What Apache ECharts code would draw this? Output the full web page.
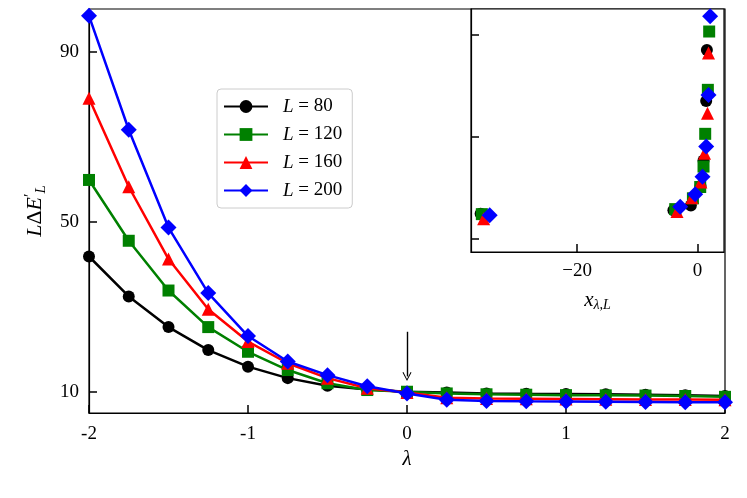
<!DOCTYPE html>
<html>
<head>
<meta charset="utf-8">
<script src="https://cdn.jsdelivr.net/npm/echarts@6/dist/echarts.min.js"></script>
<style>
html, body { margin: 0; padding: 0; background: #fff; }
#chart { width: 747px; height: 498px; }
</style>
</head>
<body>
<div id="chart"></div>
<script>
// main panel: L*dE' vs lambda
var lambdas = [-2, -1.75, -1.5, -1.25, -1, -0.75, -0.5, -0.25, 0, 0.25, 0.5, 0.75, 1, 1.25, 1.5, 1.75, 2];
var L80  = [41.8, 32.4, 25.2, 19.8, 15.9, 13.2, 11.4, 10.5, 10.0, 9.8, 9.6, 9.5, 9.45, 9.4, 9.3, 9.2, 9.0];
var L120 = [59.8, 45.5, 33.8, 25.2, 19.4, 15.1, 12.0, 10.4, 10.0, 9.6, 9.4, 9.3, 9.2, 9.15, 9.1, 9.0, 8.8];
var L160 = [79.0, 58.2, 41.2, 29.4, 21.8, 16.7, 13.2, 10.8, 9.8, 8.6, 8.4, 8.35, 8.3, 8.25, 8.2, 8.15, 8.1];
var L200 = [98.4, 71.6, 48.6, 33.2, 23.1, 17.1, 13.9, 11.3, 9.6, 8.1, 7.85, 7.75, 7.7, 7.65, 7.6, 7.55, 7.5];
var yTicks = [10, 50, 90];
var xTicks = [-2, -1, 0, 1, 2];

// inset: scaling collapse (y labels not shown in the figure)
var insX80  = [-36.0, -4.0, -1.1, 0.5, 1.0, 1.44, 1.56];
var insY80  = [0.25, 0.284, 0.33, 0.52, 0.77, 1.35, 1.85];
var insX120 = [-35.8, -3.7, -0.76, 0.45, 1.0, 1.28, 1.72, 1.94];
var insY120 = [0.245, 0.294, 0.40, 0.51, 0.71, 1.03, 1.46, 2.03];
var insX160 = [-35.5, -3.4, -0.93, 0.56, 1.16, 1.66, 1.83];
var insY160 = [0.20, 0.27, 0.405, 0.56, 0.84, 1.23, 1.82];
var insX200 = [-34.5, -2.87, -0.38, 0.83, 1.44, 1.83, 2.1];
var insY200 = [0.235, 0.317, 0.44, 0.61, 0.905, 1.41, 2.18];
var insXTicks = [-20, 0];
var insYTicks = [0, 1, 2];

var names = ['L80', 'L120', 'L160', 'L200'];
var labels = {L80: '80', L120: '120', L160: '160', L200: '200'};
var colors = ['#000000', '#008000', '#ff0000', '#0000ff'];
var symbols = ['circle', 'rect', 'triangle', 'diamond'];
var sizes = [12, 12, 13, 16];

var serif = 'Liberation Serif';

function pairs(xs, ys) {
    return xs.map(function (x, i) { return [x, ys[i]]; });
}

var mainData = [L80, L120, L160, L200];
var insetData = [[insX80, insY80], [insX120, insY120], [insX160, insY160], [insX200, insY200]];

var series = [];
for (var i = 0; i < 4; i++) {
    series.push({
        name: names[i],
        type: 'line',
        xAxisIndex: 0,
        yAxisIndex: 0,
        data: pairs(lambdas, mainData[i]),
        symbol: symbols[i],
        symbolSize: sizes[i],
        itemStyle: { color: colors[i] },
        lineStyle: { color: colors[i], width: 2.5 },
        z: 2 + i,
        animation: false
    });
}
// arrow pointing at lambda = 0
series[0].markLine = {
    silent: true,
    symbol: ['none', 'path://M0,10 L5,0 L10,10 L9,10.8 L5,2.2 L1,10.8 Z'],
    symbolSize: [9, 9],
    lineStyle: { color: '#000', width: 1.4, type: 'solid' },
    label: { show: false },
    data: [[{ coord: [0, 24.1] }, { coord: [0, 13.6] }]],
    animation: false
};
for (var j = 0; j < 4; j++) {
    series.push({
        name: names[j],
        type: 'scatter',
        xAxisIndex: 1,
        yAxisIndex: 1,
        data: pairs(insetData[j][0], insetData[j][1]),
        symbol: symbols[j],
        symbolSize: sizes[j],
        itemStyle: { color: colors[j], opacity: 1 },
        z: 20 + j,
        animation: false
    });
}

var axisLine = { show: true, onZero: false, lineStyle: { color: '#000', width: 1.2 } };

var chart = echarts.init(document.getElementById('chart'));
chart.setOption({
    backgroundColor: '#fff',
    animation: false,
    textStyle: { fontFamily: serif, color: '#000' },
    grid: [
        { left: 89, right: 22, top: 9, bottom: 85, show: true, borderColor: '#000', borderWidth: 1.2, backgroundColor: '#fff' },
        { left: 471, right: 23, top: 9, bottom: 246, show: true, borderColor: '#000', borderWidth: 1.2, backgroundColor: '#fff', z: 10 }
    ],
    legend: {
        data: names,
        orient: 'vertical',
        left: 217,
        top: 89,
        padding: [8, 10, 8, 6],
        itemGap: 9,
        itemWidth: 44,
        itemHeight: 16,
        borderColor: '#cccccc',
        borderWidth: 1,
        borderRadius: 4,
        backgroundColor: '#fff',
        formatter: function (n) { return '{i|L} = ' + labels[n]; },
        textStyle: {
            fontFamily: serif, fontSize: 19, color: '#000', padding: [0, 0, 0, 10],
            rich: { i: { fontStyle: 'italic', fontFamily: serif, fontSize: 19 } }
        }
    },
    xAxis: [
        {
            type: 'value', gridIndex: 0, min: -2, max: 2, interval: 1,
            axisLine: axisLine,
            axisTick: { show: true, inside: true, length: 8, lineStyle: { color: '#000', width: 1.5 }, customValues: xTicks },
            axisLabel: { fontSize: 19, color: '#000', margin: 12, fontFamily: serif, customValues: xTicks },
            splitLine: { show: false },
            name: 'λ',
            nameLocation: 'middle',
            nameGap: 36,
            nameTextStyle: { fontSize: 21, fontStyle: 'italic', fontFamily: serif, color: '#000' }
        },
        {
            type: 'value', gridIndex: 1, min: -37.6, max: 4.4,
            axisLine: axisLine,
            axisTick: { show: true, inside: true, length: 8, lineStyle: { color: '#000', width: 1.5 }, customValues: insXTicks },
            axisLabel: {
                fontSize: 19, color: '#000', margin: 10, fontFamily: serif, customValues: insXTicks,
                formatter: function (v) { return String(v).replace('-', '\u2212'); }
            },
            splitLine: { show: false },
            name: '{i|x}{s|λ,L}',
            nameLocation: 'middle',
            nameGap: 36,
            nameTextStyle: {
                fontFamily: serif, color: '#000',
                rich: {
                    i: { fontSize: 21, fontStyle: 'italic', fontFamily: serif },
                    s: { fontSize: 14, fontStyle: 'italic', fontFamily: serif, padding: [10, 0, 0, 0] }
                }
            },
            z: 12
        }
    ],
    yAxis: [
        {
            type: 'value', gridIndex: 0, min: 5, max: 100,
            axisLine: axisLine,
            axisTick: { show: true, inside: true, length: 8, lineStyle: { color: '#000', width: 1.5 }, customValues: yTicks },
            axisLabel: { fontSize: 19, color: '#000', margin: 10, fontFamily: serif, customValues: yTicks },
            splitLine: { show: false },
            name: '{i|L}{n|Δ}{i|E}{p|′}{s|L}',
            nameLocation: 'middle',
            nameRotate: 90,
            nameGap: 40,
            nameTextStyle: {
                fontFamily: serif, color: '#000',
                rich: {
                    i: { fontSize: 22, fontStyle: 'italic', fontFamily: serif },
                    n: { fontSize: 22, fontFamily: serif },
                    p: { fontSize: 16, fontFamily: serif, padding: [0, 0, 10, 0] },
                    s: { fontSize: 15, fontStyle: 'italic', fontFamily: serif, padding: [12, 0, 0, 0] }
                }
            }
        },
        {
            type: 'value', gridIndex: 1, min: -0.125, max: 2.25,
            axisLine: axisLine,
            axisTick: { show: true, inside: true, length: 8, lineStyle: { color: '#000', width: 1.5 }, customValues: insYTicks },
            axisLabel: { show: false },
            splitLine: { show: false },
            z: 12
        }
    ],
    series: series
});
</script>
</body>
</html>
